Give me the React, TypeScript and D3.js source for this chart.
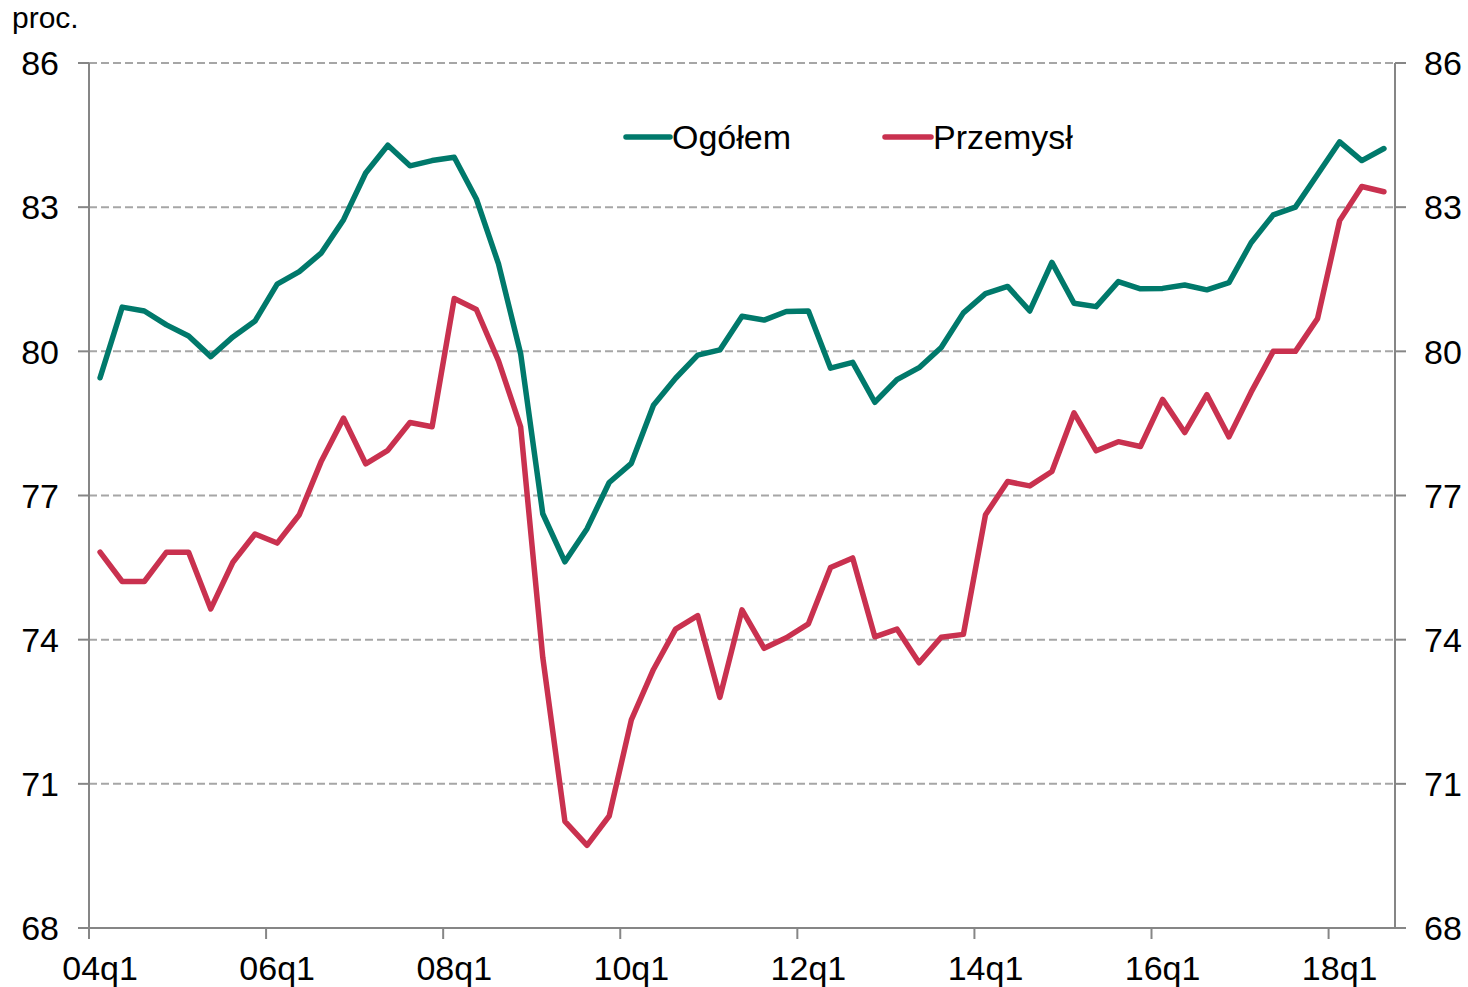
import React from "react";
import * as d3 from "d3";

const quarters: string[] = [
  "04q1","04q2","04q3","04q4","05q1","05q2","05q3","05q4",
  "06q1","06q2","06q3","06q4","07q1","07q2","07q3","07q4",
  "08q1","08q2","08q3","08q4","09q1","09q2","09q3","09q4",
  "10q1","10q2","10q3","10q4","11q1","11q2","11q3","11q4",
  "12q1","12q2","12q3","12q4","13q1","13q2","13q3","13q4",
  "14q1","14q2","14q3","14q4","15q1","15q2","15q3","15q4",
  "16q1","16q2","16q3","16q4","17q1","17q2","17q3","17q4",
  "18q1","18q2","18q3",
];

const ogolem: number[] = [
  79.45, 80.92, 80.84, 80.55, 80.32, 79.89, 80.3, 80.63, 81.4, 81.66,
  82.05, 82.74, 83.71, 84.29, 83.86, 83.97, 84.04, 83.17, 81.82, 79.95,
  76.62, 75.62, 76.31, 77.27, 77.67, 78.88, 79.44, 79.92, 80.03, 80.73,
  80.65, 80.83, 80.84, 79.65, 79.77, 78.94, 79.41, 79.66, 80.08, 80.8,
  81.2, 81.35, 80.84, 81.85, 81.0, 80.93, 81.45, 81.3, 81.31, 81.38,
  81.28, 81.43, 82.26, 82.84, 83.0, 83.68, 84.36, 83.97, 84.22,
];

const przemysl: number[] = [
  75.82, 75.21, 75.21, 75.82, 75.82, 74.64, 75.61, 76.2, 76.01, 76.6,
  77.72, 78.61, 77.66, 77.94, 78.52, 78.43, 81.1, 80.87, 79.8, 78.43,
  73.63, 70.22, 69.72, 70.33, 72.33, 73.38, 74.22, 74.5, 72.8, 74.62,
  73.82, 74.04, 74.33, 75.5, 75.7, 74.06, 74.22, 73.52, 74.05, 74.11,
  76.6, 77.29, 77.2, 77.5, 78.72, 77.93, 78.12, 78.02, 79.0, 78.31,
  79.1, 78.22, 79.15, 80.0, 80.0, 80.68, 82.72, 83.43, 83.32,
];

const xTickLabels: string[] = ["04q1", "06q1", "08q1", "10q1", "12q1", "14q1", "16q1", "18q1"];
const yTicks: number[] = [68, 71, 74, 77, 80, 83, 86];

const seriesNames = ["Ogółem", "Przemysł"];
const GREEN = "#00796B";
const RED = "#C9314F";
const FONT = "'Liberation Sans', Arial, sans-serif";

export default function App() {
  const W = 1468, H = 987;
  const left = 89, right = 1395, top = 63, bottom = 928;

  const x = d3.scaleBand<string>().domain(quarters).range([left, right]).padding(0);
  const bw = x.bandwidth();
  const y = d3.scaleLinear().domain([68, 86]).range([bottom, top]);

  const line = d3
    .line<number>()
    .x((_, i) => (x(quarters[i]) as number) + bw / 2)
    .y((d) => y(d));

  return (
    <svg width={W} height={H} style={{ position: "absolute", left: 0, top: 0, background: "#fff" }} fontFamily={FONT}>
      {yTicks.filter((t) => t !== 68).map((t) => (
        <line key={"g" + t} x1={left} x2={right} y1={y(t)} y2={y(t)} stroke="#A6A6A6" strokeWidth={2} strokeDasharray="8,4" />
      ))}
      <line x1={left} x2={left} y1={top} y2={bottom} stroke="#868686" strokeWidth={2} />
      <line x1={right} x2={right} y1={top} y2={bottom} stroke="#868686" strokeWidth={2} />
      <line x1={left} x2={right} y1={bottom} y2={bottom} stroke="#868686" strokeWidth={2} />
      {yTicks.map((t) => (
        <g key={"yt" + t}>
          <line x1={left - 11} x2={left} y1={y(t)} y2={y(t)} stroke="#868686" strokeWidth={2} />
          <line x1={right} x2={right + 11} y1={y(t)} y2={y(t)} stroke="#868686" strokeWidth={2} />
          <text x={59} y={y(t)} dy="0.36em" textAnchor="end" fontSize={34} fill="#000">{t}</text>
          <text x={1424} y={y(t)} dy="0.36em" textAnchor="start" fontSize={34} fill="#000">{t}</text>
        </g>
      ))}
      {xTickLabels.map((c) => {
        const xs = x(c) as number;
        return (
          <g key={"xt" + c}>
            <line x1={xs} x2={xs} y1={bottom} y2={bottom + 11} stroke="#868686" strokeWidth={2} />
            <text x={xs + bw / 2} y={980} textAnchor="middle" fontSize={34} fill="#000">{c}</text>
          </g>
        );
      })}
      <text x={12} y={28} fontSize={30} fill="#000">proc.</text>

      <path d={line(ogolem) || ""} fill="none" stroke={GREEN} strokeWidth={5.5} strokeLinejoin="round" strokeLinecap="round" />
      <path d={line(przemysl) || ""} fill="none" stroke={RED} strokeWidth={5.5} strokeLinejoin="round" strokeLinecap="round" />

      <line x1={626} x2={670} y1={137} y2={137} stroke={GREEN} strokeWidth={5.5} strokeLinecap="round" />
      <text x={672} y={137} dy="0.36em" fontSize={34} fill="#000">{seriesNames[0]}</text>
      <line x1={885} x2={931} y1={137} y2={137} stroke={RED} strokeWidth={5.5} strokeLinecap="round" />
      <text x={933} y={137} dy="0.36em" fontSize={34} fill="#000">{seriesNames[1]}</text>
    </svg>
  );
}
